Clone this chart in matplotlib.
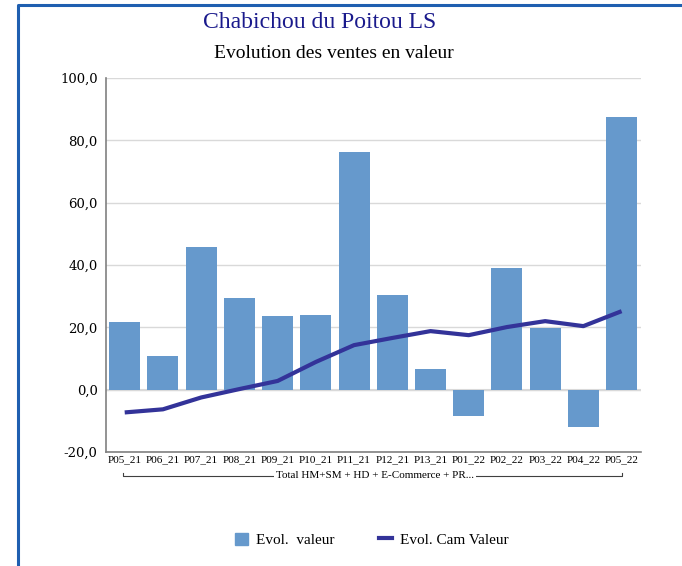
import numpy as np
import matplotlib.pyplot as plt
from matplotlib.patches import Patch
from matplotlib.lines import Line2D
import matplotlib.transforms as mtransforms

periods = ["P05_21", "P06_21", "P07_21", "P08_21", "P09_21", "P10_21", "P11_21",
           "P12_21", "P13_21", "P01_22", "P02_22", "P03_22", "P04_22", "P05_22"]
evol_valeur = [21.7, 10.8, 45.8, 29.4, 23.6, 24.0, 76.2, 30.4, 6.6, -8.4, 39.0, 19.8, -12.0, 87.5]
evol_cam = [-7.3, -6.3, -2.5, 0.2, 2.8, 8.9, 14.3, 16.6, 18.8, 17.5, 20.1, 22.0, 20.4, 25.2]
group_label = "Total HM+SM + HD + E-Commerce + PR..."

plt.rcParams['font.family'] = ['Liberation Serif', 'DejaVu Serif']

fig = plt.figure(figsize=(6.82, 5.66), dpi=100)
ax = fig.add_axes([0.1554, 0.2014, 0.7846, 0.6606])

x = np.arange(len(periods))
ax.bar(x, evol_valeur, width=0.81, color='#6699cc', zorder=2)
ax.plot(x, evol_cam, color='#333399', lw=3, solid_capstyle='butt', zorder=3)

ax.set_xlim(-0.49, 13.51)
ax.set_ylim(-20, 100)
ax.set_yticks(np.arange(-20, 101, 20))
ax.set_yticklabels([f"{v:.1f}".replace('.', ',') for v in np.arange(-20, 101, 20)],
                   fontsize=9.5, family='DejaVu Serif')
ax.set_xticks(x)
ax.set_xticklabels(periods, fontsize=8)
ax.tick_params(axis='x', length=0, pad=2)
ax.tick_params(axis='y', length=0, pad=6)
ax.yaxis.grid(True, color='#d9d9d9', lw=1, zorder=0)
ax.axhline(0, color='#d9d9d9', lw=1.5, zorder=1)
for s in ['top', 'right']:
    ax.spines[s].set_visible(False)
ax.spines['left'].set_color('#808080')
ax.spines['bottom'].set_color('#808080')
ax.spines['left'].set_linewidth(1.2)
ax.spines['bottom'].set_linewidth(1.2)

# group bracket under the category labels
tr = mtransforms.blended_transform_factory(ax.transData, ax.transAxes)
yb = -0.064
ax.plot([-0.04, -0.04, 13.0, 13.0], [yb + 0.008, yb, yb, yb + 0.008], transform=tr,
        color='#404040', lw=0.8, clip_on=False)
ax.text(6.55, yb, group_label, transform=tr, ha='center', va='center', fontsize=8,
        bbox=dict(facecolor='white', edgecolor='none', pad=1.5))

fig.text(0.469, 0.961, "Chabichou du Poitou LS", ha='center', va='center', fontsize=17, color='#1a1a8c')
fig.text(0.490, 0.906, "Evolution des ventes en valeur", ha='center', va='center', fontsize=14)

handles = [Patch(color='#6699cc'), Line2D([0], [0], color='#333399', lw=3)]
fig.legend(handles, ["Evol.  valeur", "Evol. Cam Valeur"], loc='center', bbox_to_anchor=(0.545, 0.046),
           ncol=2, frameon=False, fontsize=11, handlelength=0.85, handleheight=0.85,
           handletextpad=0.55, columnspacing=2.9)

# blue frame on the left and top edges
fig.add_artist(Line2D([0.0265, 0.0265, 1.0], [0.0, 0.991, 0.991], transform=fig.transFigure,
                      color='#1f5fb0', lw=2.2))

fig.savefig("out.png", dpi=100)
